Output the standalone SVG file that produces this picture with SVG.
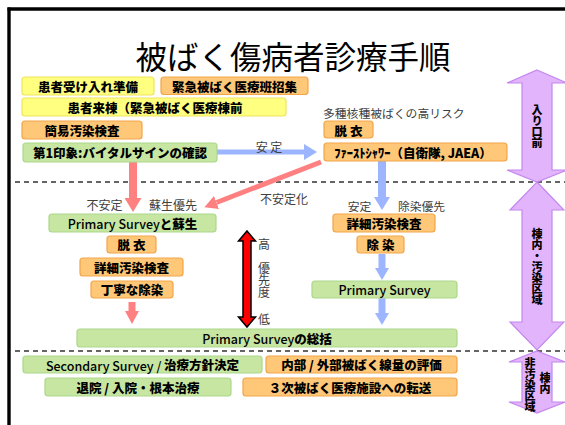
<svg xmlns="http://www.w3.org/2000/svg" width="565" height="425" viewBox="0 0 565 425">
<style>
text{font-family:"Noto Sans CJK JP","Noto Sans",sans-serif;}
.b{font-size:12.5px;font-weight:900;fill:#000;text-anchor:middle;dominant-baseline:central;}
.n{font-weight:500;}
.g{font-size:12px;fill:#404040;text-anchor:middle;dominant-baseline:central;}
.y{fill:#ffff80;stroke:#f0e45a;stroke-width:1.2;}
.o{fill:#ffc878;stroke:#f2a548;stroke-width:1.2;}
.gr{fill:#c6e6a2;stroke:#acd88c;stroke-width:1.2;}
.p{fill:#e2b4fc;stroke:#c486ee;stroke-width:1.2;}
.v{font-size:11px;font-weight:900;fill:#000;writing-mode:vertical-rl;text-anchor:middle;}
.dash{stroke:#333;stroke-width:1.5;stroke-dasharray:5 4;fill:none;}
.rl{stroke:#ff8080;fill:none;}
.bl{stroke:#9db4ff;fill:none;}
</style>
<defs>
<marker id="hr" markerUnits="userSpaceOnUse" markerWidth="14" markerHeight="17" refX="0" refY="8.5" orient="auto" viewBox="0 0 14 17"><path d="M0,0 L14,8.5 L0,17 Z" fill="#ff8080"/></marker>
<marker id="hrs" markerUnits="userSpaceOnUse" markerWidth="13" markerHeight="14" refX="0" refY="7" orient="auto" viewBox="0 0 13 14"><path d="M0,0 L13,7 L0,14 Z" fill="#ff8080"/></marker>
<marker id="hb" markerUnits="userSpaceOnUse" markerWidth="13" markerHeight="16" refX="0" refY="8" orient="auto" viewBox="0 0 13 16"><path d="M0,0 L13,8 L0,16 Z" fill="#9db4ff"/></marker>
<marker id="hbs" markerUnits="userSpaceOnUse" markerWidth="12" markerHeight="14" refX="0" refY="7" orient="auto" viewBox="0 0 12 14"><path d="M0,0 L12,7 L0,14 Z" fill="#9db4ff"/></marker>
</defs>

<!-- frame -->
<g id="frame">
<line x1="7.5" y1="9" x2="565" y2="9" stroke="#000" stroke-width="3.4"/>
<line x1="9" y1="7.5" x2="9" y2="425" stroke="#000" stroke-width="3.4"/>
</g>

<text id="title" x="293" y="55" style="font-size:31.5px;text-anchor:middle;dominant-baseline:central;fill:#000">被ばく傷病者診療手順</text>

<g id="dividers">
<line class="dash" x1="15" y1="182" x2="565" y2="182"/>
<line class="dash" x1="15" y1="351" x2="565" y2="351"/>
</g>

<g id="zones">
<g id="zone-entrance">
<polygon class="p" points="537,70 567,83 552,83 552,170 567,170 537,182 507,170 522,170 522,83 507,83"/>
<text class="v" x="537" y="126.5">入り口前</text>
</g>
<g id="zone-contaminated">
<polygon class="p" points="537,182 564,210 552,210 552,322 564,322 537,350 510,322 522,322 522,210 510,210"/>
<text class="v" x="537" y="266.5">棟内・汚染区域</text>
</g>
<g id="zone-clean">
<polygon class="p" points="537,351 565,362 552,362 552,402 565,402 537,413 509,402 522,402 522,362 509,362"/>
<text class="v" x="530" y="385">非汚染区域</text>
<text class="v" x="545" y="383">棟内</text>
</g>
</g>

<g id="connectors">
<line class="bl" x1="217" y1="152" x2="304" y2="152" stroke-width="5" marker-end="url(#hb)"/>
<line class="rl" x1="133" y1="162" x2="133" y2="198" stroke-width="8" marker-end="url(#hr)"/>
<line class="rl" x1="321" y1="162" x2="216.5" y2="202.5" stroke-width="5" marker-end="url(#hrs)"/>
<line class="bl" x1="382" y1="161" x2="382" y2="197" stroke-width="8" marker-end="url(#hb)"/>
<line class="bl" x1="382" y1="254" x2="382" y2="268" stroke-width="7" marker-end="url(#hbs)"/>
<line class="bl" x1="382" y1="298" x2="382" y2="313" stroke-width="7" marker-end="url(#hbs)"/>
<line class="rl" x1="132" y1="302" x2="132" y2="311" stroke-width="7" marker-end="url(#hrs)"/>
</g>

<g id="priority">
<polygon points="247,231 255.5,241 251,241 251,317 255.5,317 247,327 238.5,317 243,317 243,241 238.5,241" fill="#ff0000" stroke="#000" stroke-width="1.5"/>
<text class="g" x="264" y="243">高</text>
<text class="g" x="264" y="280" style="writing-mode:vertical-rl;dominant-baseline:auto">優先度</text>
<text class="g" x="264" y="318">低</text>
</g>

<g id="labels">
<text class="g" x="323" y="112.5" style="text-anchor:start;font-size:11.8px">多種核種被ばくの高リスク</text>
<text class="g" x="269" y="146">安 定</text>
<text class="g" x="104.5" y="204.5">不安定</text>
<text class="g" x="173" y="204.5">蘇生優先</text>
<text class="g" x="284" y="198">不安定化</text>
<text class="g" x="359.5" y="205" style="font-size:11.8px">安定</text>
<text class="g" x="421.5" y="205" style="font-size:11.8px">除染優先</text>
</g>

<g id="n1"><rect class="y" x="22" y="77" width="132" height="18" rx="3"/><text class="b" x="88" y="86">患者受け入れ準備</text></g>
<g id="n2"><rect class="o" x="161" y="77" width="147" height="17.5" rx="3"/><text class="b" x="234.5" y="86">緊急被ばく医療班招集</text></g>
<g id="n3"><rect class="y" x="22" y="98" width="264" height="18" rx="3"/><text class="b" x="155" y="107">患者来棟（緊急被ばく医療棟前</text></g>
<g id="n4"><rect class="o" x="22" y="121" width="120" height="18" rx="3"/><text class="b" x="82" y="130">簡易汚染検査</text></g>
<g id="n5"><rect class="o" x="324" y="121" width="49" height="17" rx="3"/><text class="b" x="348.5" y="130">脱 衣</text></g>
<g id="n6"><rect class="gr" x="23" y="143" width="194" height="19" rx="3"/><text class="b" x="120" y="152.5">第1印象:バイタルサインの確認</text></g>
<g id="n7"><rect class="o" x="324" y="143" width="183" height="18" rx="3"/><text class="b" x="413" y="152">ﾌｧｰｽﾄｼｬﾜｰ（自衛隊, JAEA）</text></g>
<g id="n8"><rect class="gr" x="49" y="214" width="167" height="18" rx="3"/><text class="b" x="132.5" y="223"><tspan class="n">Primary Survey</tspan>と蘇生</text></g>
<g id="n9"><rect class="o" x="107" y="236" width="49" height="17" rx="3"/><text class="b" x="131.5" y="244.5">脱 衣</text></g>
<g id="n10"><rect class="o" x="80" y="258" width="103" height="18" rx="3"/><text class="b" x="131.5" y="267">詳細汚染検査</text></g>
<g id="n11"><rect class="o" x="91" y="281" width="82" height="17" rx="3"/><text class="b" x="132" y="289.5">丁寧な除染</text></g>
<g id="n12"><rect class="o" x="333" y="214" width="102" height="18" rx="3"/><text class="b" x="384" y="223.5">詳細汚染検査</text></g>
<g id="n13"><rect class="o" x="357" y="236" width="47" height="17" rx="3"/><text class="b" x="380.5" y="244.5">除 染</text></g>
<g id="n14"><rect class="gr" x="312" y="281" width="145" height="17" rx="3"/><text class="b n" x="384.5" y="289.5">Primary Survey</text></g>
<g id="n15"><rect class="gr" x="77" y="329" width="380" height="18" rx="3"/><text class="b" x="267" y="338"><tspan class="n">Primary Survey</tspan>の総括</text></g>
<g id="n16"><rect class="gr" x="23" y="356" width="239" height="17" rx="3"/><text class="b" x="142.5" y="364.5"><tspan class="n">Secondary Survey / </tspan>治療方針決定</text></g>
<g id="n17"><rect class="o" x="266" y="356" width="191" height="17" rx="3"/><text class="b" x="361.5" y="364.5">内部 / 外部被ばく線量の評価</text></g>
<g id="n18"><rect class="gr" x="45" y="378" width="186" height="18" rx="3"/><text class="b" x="138" y="387">退院 / 入院・根本治療</text></g>
<g id="n19"><rect class="o" x="243" y="378" width="214" height="18" rx="3"/><text class="b" x="350" y="387">３次被ばく医療施設への転送</text></g>
</svg>
